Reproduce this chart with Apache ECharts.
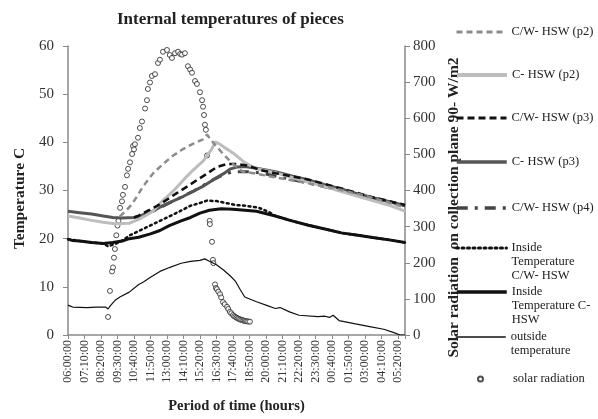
<!DOCTYPE html>
<html>
<head>
<meta charset="utf-8">
<script src="https://cdn.jsdelivr.net/npm/echarts@6/dist/echarts.min.js"></script>
<style>
  html, body { margin: 0; padding: 0; background: #fff; }
  #chart { width: 598px; height: 419px; }
</style>
</head>
<body>
<div id="chart"></div>
<script>
// x values are minutes after 06:00, one tick every 70 minutes
var tickLabels = ['06:00:00', '07:10:00', '08:20:00', '09:30:00', '10:40:00', '11:50:00', '13:00:00',
  '14:10:00', '15:20:00', '16:30:00', '17:40:00', '18:50:00', '20:00:00', '21:10:00', '22:20:00',
  '23:30:00', '00:40:00', '01:50:00', '03:00:00', '04:10:00', '05:20:00']

var cwP2 = [[220, 24.6], [250, 26], [275, 27.4], [318, 30.8], [360, 33.5], [403, 35.5], [445, 37.2],
  [488, 38.6], [530, 39.7], [573, 40.6], [590, 41.6], [615, 40.0], [658, 37.6], [700, 35.5], [742, 33.9],
  [800, 33.5], [870, 32.8], [985, 31.8], [1125, 30.5], [1270, 28.8], [1430, 26.5]]

var cP2 = [[0, 24.7], [50, 24.3], [100, 23.8], [150, 23.4], [200, 23.1], [260, 23.2], [300, 24.0],
  [330, 24.8], [360, 25.7], [400, 27.8], [445, 29.8], [490, 32.2], [530, 34.2], [575, 36.2], [610, 38.6],
  [625, 40.1], [645, 39.6], [665, 38.9], [700, 37.8], [750, 35.8], [800, 34.5], [880, 33.7], [950, 32.7],
  [1020, 31.7], [1090, 30.8], [1160, 29.8], [1230, 28.8], [1300, 27.8], [1370, 26.8], [1430, 25.7]]

var cwP3 = [[280, 24.4], [300, 24.8], [335, 25.7], [378, 26.8], [420, 28.1], [463, 29.5], [505, 30.8],
  [548, 32.2], [590, 33.5], [632, 34.9], [675, 35.5], [720, 35.5], [760, 35.2], [820, 34.2], [880, 33.6],
  [1018, 32.3], [1160, 30.4], [1300, 28.5], [1430, 27.0]]

var cP3 = [[0, 25.7], [50, 25.4], [100, 25.1], [150, 24.7], [190, 24.4], [230, 24.3], [280, 24.4],
  [320, 24.9], [360, 25.7], [400, 26.8], [445, 27.8], [490, 28.8], [530, 29.8], [570, 30.8], [615, 32.2],
  [660, 33.5], [690, 34.5], [720, 34.9], [750, 35.0], [800, 34.6], [880, 33.9], [950, 33.0], [1020, 32.2],
  [1090, 31.2], [1160, 30.3], [1230, 29.3], [1300, 28.4], [1370, 27.6], [1430, 26.9]]

var cwP4 = [[290, 24.4], [360, 25.7], [445, 27.8], [530, 29.8], [615, 32.2], [660, 33.3], [700, 33.9],
  [760, 33.9], [810, 33.7], [870, 33.1], [950, 32.3], [1050, 31.2], [1150, 30.1], [1250, 29.0],
  [1350, 27.9], [1430, 26.8]]

var insideCW = [[0, 19.9], [50, 19.5], [100, 19.2], [150, 19.0], [170, 18.4], [220, 19.3], [263, 20.7],
  [305, 21.7], [348, 22.7], [390, 23.7], [433, 24.7], [475, 25.7], [518, 26.8], [560, 27.4], [590, 27.9],
  [630, 27.8], [670, 27.4], [710, 27.0], [760, 26.8], [810, 26.4], [850, 25.6], [880, 24.7], [950, 23.7],
  [1020, 22.8], [1090, 22.0], [1160, 21.2], [1230, 20.7], [1300, 20.2], [1370, 19.7], [1430, 19.2]]

var insideC = [[0, 19.9], [20, 19.6], [50, 19.5], [100, 19.2], [150, 19.0], [190, 19.2], [230, 19.5],
  [260, 20.0], [300, 20.3], [350, 21.0], [390, 21.7], [430, 22.7], [480, 23.7], [520, 24.4], [560, 25.3],
  [600, 25.9], [650, 26.2], [700, 26.1], [800, 25.7], [880, 24.7], [950, 23.7], [1020, 22.8], [1090, 22.0],
  [1160, 21.2], [1230, 20.7], [1300, 20.2], [1370, 19.7], [1430, 19.2]]

var outside = [[0, 6.2], [10, 6.0], [20, 5.8], [80, 5.7], [120, 5.8], [160, 5.8], [170, 5.4], [180, 6.1],
  [200, 7.2], [220, 7.9], [260, 8.9], [300, 10.5], [320, 11.0], [350, 12.0], [390, 13.2], [430, 14.0],
  [480, 14.9], [520, 15.3], [560, 15.5], [580, 15.8], [600, 15.3], [630, 14.6], [660, 13.5], [690, 12.2],
  [710, 11.2], [730, 9.5], [750, 7.9], [800, 6.9], [840, 6.2], [880, 5.5], [900, 5.7], [940, 4.8],
  [980, 4.1], [1060, 3.8], [1090, 3.9], [1110, 3.65], [1125, 4.1], [1150, 3.0], [1220, 2.3], [1280, 1.75],
  [1340, 1.2], [1380, 0.55], [1410, 0], [1430, 0]]

var solar = [[170, 50], [178, 122], [187, 176], [191, 187], [195, 214], [199, 238], [205, 276], [210, 303],
  [214, 316], [221, 352], [229, 370], [233, 388], [242, 410], [250, 442], [255, 460], [263, 478], [272, 501],
  [276, 523], [280, 514], [284, 528], [297, 546], [305, 573], [314, 591], [327, 627], [335, 650], [339, 681],
  [348, 699], [356, 717], [369, 722], [382, 753], [390, 762], [403, 784], [420, 789], [432, 775], [441, 767],
  [454, 780], [467, 784], [476, 778], [484, 776], [496, 780], [509, 744], [518, 735], [526, 726], [539, 703],
  [547, 695], [560, 672], [569, 650], [573, 632], [577, 609], [581, 582], [585, 568], [590, 497], [601, 316],
  [602, 307], [611, 258], [615, 208], [617, 199], [624, 140], [628, 130], [632, 127], [638, 120], [645, 113],
  [650, 104], [658, 91], [665, 85], [675, 78], [680, 72], [687, 64], [693, 60], [700, 55], [705, 52],
  [710, 50], [715, 48], [720, 46], [725, 45], [730, 43], [735, 42], [740, 41], [745, 40], [750, 39],
  [755, 38], [760, 38], [765, 37], [772, 37]]

var serif = '"Liberation Serif", "DejaVu Serif", serif'

function legendAt(name, top, extra) {
  var lg = {
    left: 455,
    top: top,
    padding: 0,
    orient: 'vertical',
    itemWidth: 50,
    itemHeight: 12,
    selectedMode: false,
    itemStyle: { opacity: 0 },
    lineStyle: { width: 3 },
    data: [name],
    textStyle: { fontFamily: serif, fontSize: 12.5, color: '#222', lineHeight: 14 }
  }
  return Object.assign(lg, extra || {})
}

var chart = echarts.init(document.getElementById('chart'))
var option = {
  animation: false,
  title: {
    text: 'Internal temperatures of pieces',
    left: 112,
    top: 6,
    textStyle: { fontFamily: serif, fontSize: 17, fontWeight: 'bold', color: '#222' }
  },
  grid: { left: 68, right: 193, top: 46, bottom: 77 },
  legend: [
    legendAt('C/W- HSW (p2)', 25),
    legendAt('C- HSW (p2)', 68, { lineStyle: { width: 4 } }),
    legendAt('C/W- HSW (p3)', 111),
    legendAt('C- HSW (p3)', 155, { lineStyle: { width: 3.5 } }),
    legendAt('C/W- HSW (p4)', 201, { lineStyle: { width: 3.5 } }),
    // blank lines in front keep the icon level with the first text line
    legendAt('Inside Temperature C/W- HSW', 213, {
      formatter: function () { return '\n\nInside\nTemperature\nC/W- HSW' }
    }),
    legendAt('Inside Temperature C- HSW', 257, {
      lineStyle: { width: 3.5 },
      formatter: function () { return '\n\nInside\nTemperature C-\nHSW' }
    }),
    legendAt('outside temperature', 316, {
      lineStyle: { width: 1.5 },
      formatter: function () { return '\noutside\ntemperature' }
    }),
    legendAt('solar radiation', 372, {
      left: 477,
      itemWidth: 5,
      itemHeight: 5,
      itemStyle: {},
      formatter: function (name) { return '{s|}{t|' + name + '}' },
      textStyle: {
        fontFamily: serif, fontSize: 12.5, color: '#222', lineHeight: 14,
        rich: { s: { width: 25 }, t: { fontFamily: serif, fontSize: 12.5, color: '#222' } }
      }
    })
  ],
  xAxis: {
    type: 'value',
    min: 0,
    max: 1430,
    interval: 70,
    name: 'Period of time (hours)',
    nameLocation: 'middle',
    nameGap: 64,
    nameTextStyle: { fontFamily: serif, fontSize: 14.5, fontWeight: 'bold', color: '#222' },
    splitLine: { show: false },
    axisLine: { lineStyle: { color: '#8a8a8a', width: 1.5 } },
    axisTick: { length: 4, lineStyle: { color: '#8a8a8a' } },
    axisLabel: {
      rotate: 90,
      margin: 5,
      fontFamily: serif,
      fontSize: 12,
      color: '#333',
      formatter: function (v) {
        return v % 70 === 0 ? tickLabels[v / 70] : ''
      }
    }
  },
  yAxis: [{
    type: 'value',
    min: 0,
    max: 60,
    interval: 10,
    name: 'Temperature C',
    nameLocation: 'middle',
    nameGap: 40,
    nameTextStyle: { fontFamily: serif, fontSize: 15.5, fontWeight: 'bold', color: '#222', padding: [0, 16, 0, 0] },
    splitLine: { show: false },
    axisLine: { show: true, lineStyle: { color: '#8a8a8a', width: 1.5 } },
    axisTick: { show: true, length: 5, lineStyle: { color: '#8a8a8a' } },
    axisLabel: { fontFamily: serif, fontSize: 15, color: '#333', margin: 14 }
  }, {
    type: 'value',
    position: 'right',
    min: 0,
    max: 800,
    interval: 100,
    name: 'Solar radiation  on collection plane 90- W/m2',
    nameLocation: 'middle',
    nameRotate: 90,
    nameGap: 36,
    nameTextStyle: { fontFamily: serif, fontSize: 15.5, fontWeight: 'bold', color: '#222', padding: [0, 34, 0, 0] },
    splitLine: { show: false },
    axisLine: { show: true, lineStyle: { color: '#8a8a8a', width: 1.5 } },
    axisTick: { show: true, length: 5, lineStyle: { color: '#8a8a8a' } },
    axisLabel: { fontFamily: serif, fontSize: 15, color: '#333', margin: 8 }
  }],
  series: [{
    name: 'C/W- HSW (p4)',
    type: 'line',
    data: cwP4,
    symbol: 'none',
    lineStyle: { color: '#444', width: 3, type: [11, 7, 3, 7] },
    itemStyle: { color: '#444' }
  }, {
    name: 'C- HSW (p3)',
    type: 'line',
    data: cP3,
    symbol: 'none',
    lineStyle: { color: '#555', width: 3 },
    itemStyle: { color: '#555' }
  }, {
    name: 'C- HSW (p2)',
    type: 'line',
    data: cP2,
    symbol: 'none',
    lineStyle: { color: '#bdbdbd', width: 3 },
    itemStyle: { color: '#bdbdbd' }
  }, {
    name: 'C/W- HSW (p3)',
    type: 'line',
    data: cwP3,
    symbol: 'none',
    lineStyle: { color: '#111', width: 2.5, type: [7, 4] },
    itemStyle: { color: '#111' }
  }, {
    name: 'C/W- HSW (p2)',
    type: 'line',
    data: cwP2,
    symbol: 'none',
    lineStyle: { color: '#8c8c8c', width: 2.5, type: [6, 4] },
    itemStyle: { color: '#8c8c8c' }
  }, {
    name: 'Inside Temperature C/W- HSW',
    type: 'line',
    data: insideCW,
    symbol: 'none',
    lineStyle: { color: '#111', width: 2.5, type: [2, 3.5], cap: 'round' },
    itemStyle: { color: '#111' }
  }, {
    name: 'Inside Temperature C- HSW',
    type: 'line',
    data: insideC,
    symbol: 'none',
    lineStyle: { color: '#111', width: 3 },
    itemStyle: { color: '#111' }
  }, {
    name: 'outside temperature',
    type: 'line',
    data: outside,
    symbol: 'none',
    lineStyle: { color: '#111', width: 1.2 },
    itemStyle: { color: '#111' }
  }, {
    name: 'solar radiation',
    type: 'scatter',
    yAxisIndex: 1,
    data: solar,
    symbol: 'circle',
    symbolSize: 5,
    itemStyle: { color: '#fff', borderColor: '#222', borderWidth: 1 }
  }]
}
chart.setOption(option)
</script>
</body>
</html>
